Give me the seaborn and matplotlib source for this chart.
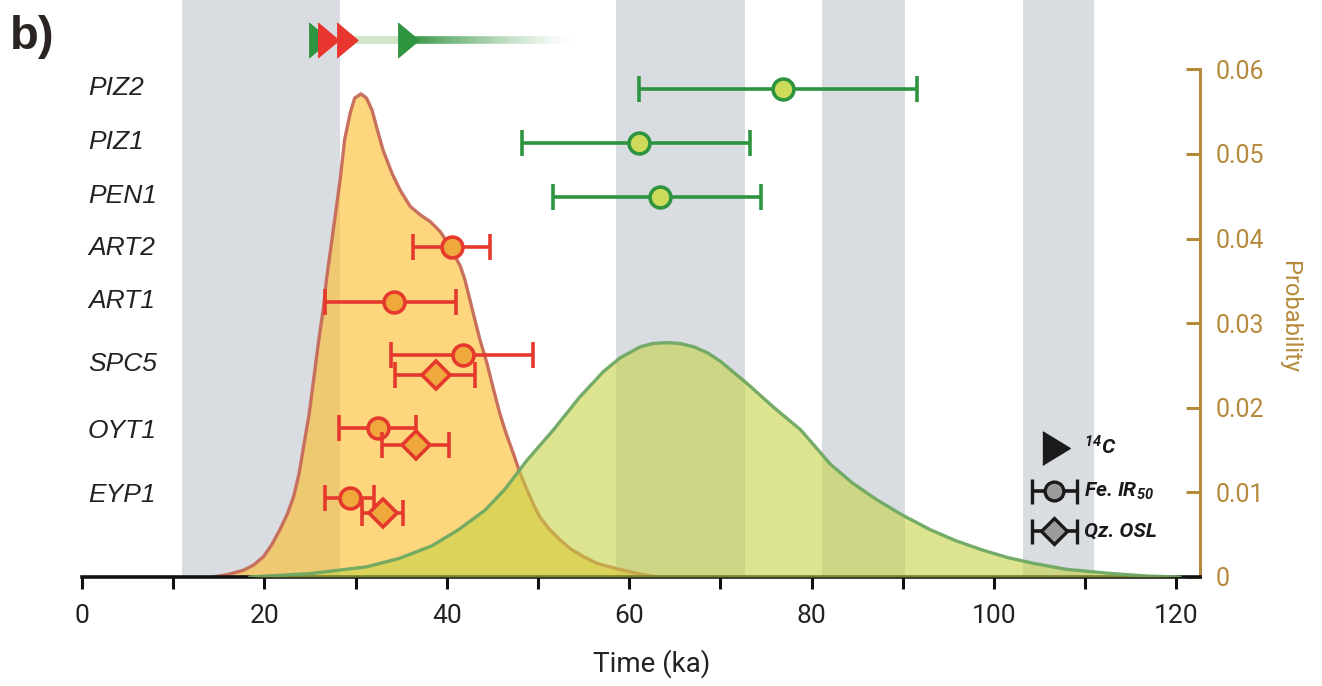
import numpy as np
import matplotlib
matplotlib.use("Agg")
import matplotlib.pyplot as plt
import seaborn as sns
from matplotlib.collections import LineCollection

# ---------------- data ----------------
samples = ["PIZ2", "PIZ1", "PEN1", "ART2", "ART1", "SPC5", "OYT1", "EYP1"]
sample_group = ["green", "green", "green", "red", "red", "red", "red", "red"]
ir_age = [76.85, 61.1, 63.4, 40.55, 34.25, 41.8, 32.5, 29.4]
ir_lo = [61.1, 48.3, 51.6, 36.3, 26.65, 33.85, 28.2, 26.65]
ir_hi = [91.6, 73.2, 74.5, 44.75, 41.0, 49.5, 36.6, 32.0]

osl_samples = ["SPC5", "OYT1", "EYP1"]
osl_age = [38.8, 36.6, 33.0]
osl_lo = [34.3, 32.9, 30.7]
osl_hi = [43.1, 40.2, 35.25]

c14_green = [26.0, 35.7]
c14_red = [27.0, 29.1]

orange_t = [14.4, 16.0, 17.7, 18.8, 19.9, 20.8, 21.7, 22.5, 23.2, 23.8, 24.3, 24.9,
            25.4, 25.9, 26.5, 26.8, 27.6, 28.3, 28.8, 29.4, 29.9, 30.6, 31.2, 31.8,
            32.3, 33.0, 34.0, 34.9, 36.0, 37.1, 38.2, 39.3, 40.4, 41.5, 42.0, 42.9,
            43.6, 44.4, 45.1, 45.8, 46.5, 47.3, 48.0, 48.8, 49.5, 50.2, 51.2, 52.4,
            53.6, 55.0, 56.5, 58.6, 60.5, 63.0]
orange_p = [0.0, 0.0003, 0.0008, 0.0014, 0.0024, 0.0038, 0.0056, 0.0074, 0.0095, 0.0122,
            0.0154, 0.0192, 0.0233, 0.0275, 0.0320, 0.0351, 0.0414, 0.0469, 0.0517, 0.0548,
            0.0566, 0.0571, 0.0566, 0.0552, 0.0532, 0.0505, 0.0477, 0.0457, 0.0438, 0.0428,
            0.0420, 0.0408, 0.0390, 0.0367, 0.0351, 0.0312, 0.0282, 0.0253, 0.0223, 0.0194,
            0.0170, 0.0146, 0.0124, 0.0103, 0.0086, 0.0071, 0.0057, 0.0044, 0.0033, 0.0024,
            0.0016, 0.0010, 0.0005, 0.0]

green_t = [18.4, 25.0, 31.2, 34.8, 38.4, 41.3, 44.2, 46.4, 48.8, 51.7, 54.6, 57.2,
           59.0, 61.2, 62.6, 64.1, 65.6, 67.1, 68.6, 70.0, 72.9, 75.8, 78.8, 80.9,
           82.0, 84.5, 87.2, 90.0, 93.0, 95.8, 98.7, 101.5, 104.4, 108.0, 113.0, 117.0,
           120.4]
green_p = [0.0, 0.0004, 0.0012, 0.0022, 0.0037, 0.0056, 0.0079, 0.0104, 0.0138, 0.0174,
           0.0213, 0.0243, 0.0259, 0.0272, 0.0276, 0.0277, 0.0276, 0.0272, 0.0265, 0.0255,
           0.0229, 0.0201, 0.0174, 0.0148, 0.0134, 0.0111, 0.0091, 0.0073, 0.0056, 0.0043,
           0.0032, 0.0023, 0.0016, 0.0009, 0.0004, 0.0001, 0.0]

mis_bands = [(11.0, 28.3), (58.6, 72.7), (81.2, 90.3), (103.2, 111.0)]

x_major = [0, 20, 40, 60, 80, 100, 120]
x_minor = [10, 30, 50, 70, 90, 110]
prob_ticks = [0, 0.01, 0.02, 0.03, 0.04, 0.05, 0.06]
prob_labels = ["0", "0.01", "0.02", "0.03", "0.04", "0.05", "0.06"]

# ---------------- layout (pixel-like row positions) ----------------
label_y = [88, 142, 196, 248, 301, 364, 431, 495]
ir_y = [89, 142.7, 196.7, 247.3, 301.7, 355, 428.3, 498.3]
osl_y = [375, 445, 512.7]
arrow_y = 40

# ---------------- style ----------------
sns.set_theme(style="white")
SANS = ["Roboto", "DejaVu Sans"]
ITAL = ["Liberation Sans", "DejaVu Sans"]
plt.rcParams["font.family"] = SANS
plt.rcParams["mathtext.fontset"] = "custom"
plt.rcParams["mathtext.rm"] = "Roboto:italic:bold"
plt.rcParams["mathtext.it"] = "Roboto:italic:bold"
plt.rcParams["mathtext.bf"] = "Roboto:italic:bold"
plt.rcParams["mathtext.default"] = "rm"

GOLD = "#b68a3c"
GRAY_BAND = "#d9dde1"
RED_E = "#e5392e"
RED_F = "#efa83c"
GRN_E = "#2e9440"
GRN_F = "#cddb5a"
colors = {"red": (RED_E, RED_F), "green": (GRN_E, GRN_F)}

fig = plt.figure(figsize=(13.22, 6.86), dpi=100)
ax = fig.add_axes([82 / 1322, 109 / 686, (1200 - 82) / 1322, 577 / 686])
ax.set_xlim(0, 122.6)
ax.set_ylim(0, 0.0682)

for a, b in mis_bands:
    ax.axvspan(a, b, color=GRAY_BAND, lw=0, zorder=0)

ax.fill_between(orange_t, orange_p, color="#fcbd2d", alpha=0.62, lw=0, zorder=1)
sns.lineplot(x=orange_t, y=orange_p, ax=ax, color="#c66a58", lw=2.4, sort=False,
             zorder=2, alpha=0.95)
ax.fill_between(green_t, green_p, color="#c5d141", alpha=0.58, lw=0, zorder=3)
sns.lineplot(x=green_t, y=green_p, ax=ax, color="#6ea862", lw=2.4, sort=False,
             zorder=4, alpha=0.95)

# axes styling
for s in ["top", "left"]:
    ax.spines[s].set_visible(False)
ax.spines["bottom"].set_color("#111111")
ax.spines["bottom"].set_linewidth(2.6)
ax.spines["right"].set_color(GOLD)
ax.spines["right"].set_linewidth(2.2)
ax.spines["right"].set_bounds(0, 0.06)

ax.set_xticks(x_major)
ax.set_xticks(x_minor, minor=True)
ax.set_xticklabels([str(v) for v in x_major])
ax.tick_params(axis="x", which="both", direction="out", length=8.5, width=2.2,
               color="#111111", labelsize=19, pad=11, labelcolor="#222222", bottom=True)

# twin for sample rows (drawn above curves)
axr = ax.twinx()
axr.set_ylim(577, 0)
axr.set_xlim(0, 122.6)
for s in axr.spines.values():
    s.set_visible(False)
axr.set_yticks([])

ax.yaxis.tick_right()
ax.set_yticks(prob_ticks)
ax.set_yticklabels(prob_labels)
ax.tick_params(axis="y", which="both", direction="in", length=10, width=2.2,
               color=GOLD, labelcolor=GOLD, labelsize=18, pad=11, right=True, left=False)
ax.set_ylabel("")
fig.text(1290 / 1322, 1 - 317 / 686, "Probability", color=GOLD, fontsize=17,
         rotation=270, ha="center", va="center")

ax.set_xlabel("")
fig.text(652 / 1322, 1 - 664 / 686, "Time (ka)", color="#222222", fontsize=20,
         ha="center", va="center")

# IR50 points
for name, a, lo, hi, y, g in zip(samples, ir_age, ir_lo, ir_hi, ir_y, sample_group):
    ec, fc = colors[g]
    axr.errorbar([a], [y], xerr=[[a - lo], [hi - a]], fmt="o", ms=15, mfc=fc, mec=ec,
                 mew=2.6, ecolor=ec, elinewidth=2.6, capsize=9.5, capthick=2.6, zorder=6)

# OSL points
for name, a, lo, hi, y in zip(osl_samples, osl_age, osl_lo, osl_hi, osl_y):
    axr.errorbar([a], [y], xerr=[[a - lo], [hi - a]], fmt="D", ms=14, mfc=RED_F, mec=RED_E,
                 mew=2.6, ecolor=RED_E, elinewidth=2.6, capsize=9.5, capthick=2.6, zorder=7)

# sample labels
for name, y in zip(samples, label_y):
    axr.text(0.66, y, name, ha="left", va="center", fontsize=19, style="italic",
             color="#222222", family=ITAL)

# 14C arrows with gradient bar
tri = [(-0.6, -1), (0.6, 0), (-0.6, 1)]
gx = np.linspace(c14_green[1], 54.0, 80)
segs = [[(gx[i], arrow_y), (gx[i + 1], arrow_y)] for i in range(len(gx) - 1)]
alphas = np.linspace(1, 0, len(segs)) ** 1.3
lc = LineCollection(segs, colors=[(0.2, 0.58, 0.25, al) for al in alphas], lw=5.5,
                    zorder=5, clip_on=False)
axr.add_collection(lc)
axr.plot([c14_red[1], c14_green[1]], [arrow_y, arrow_y], color=(0.45, 0.7, 0.35, 0.35),
         lw=5.5, solid_capstyle="butt", zorder=5, clip_on=False)
axr.plot([c14_green[0]], [arrow_y], marker=tri, ms=25, color=GRN_E, ls="none", zorder=8)
for c in c14_red:
    axr.plot([c], [arrow_y], marker=tri, ms=25, color="#e8352e", ls="none", zorder=9)
axr.plot([c14_green[1]], [arrow_y], marker=tri, ms=25, color=GRN_E, ls="none", zorder=9)

# legend (manual)
LEG = "#1a1a1a"
tri_l = [(-0.82, -1), (0.82, 0), (-0.82, 1)]
axr.plot([106.8], [448], marker=tri_l, ms=24, color=LEG, ls="none", zorder=10)
axr.errorbar([106.6], [491], xerr=[[2.4], [2.5]], fmt="o", ms=13.5, mfc="#9c9c9c", mec=LEG,
             mew=2.4, ecolor=LEG, elinewidth=2.6, capsize=9, capthick=2.8, zorder=10)
axr.errorbar([106.6], [531], xerr=[[2.4], [2.5]], fmt="D", ms=13, mfc="#9c9c9c", mec=LEG,
             mew=2.4, ecolor=LEG, elinewidth=2.6, capsize=9, capthick=2.8, zorder=10)
leg_kw = dict(ha="left", va="center", fontsize=15, style="italic", weight="bold",
              color=LEG, zorder=11)
axr.text(109.9, 446, r"$^{14}$C", **leg_kw)
axr.text(109.9, 491, r"Fe. IR$_{50}$", **leg_kw)
axr.text(109.9, 531, "Qz. OSL", **leg_kw)

fig.text(10 / 1322, 1 - 37 / 686, "b)", fontsize=34, weight="bold", color="#2a2522",
         ha="left", va="center", family=["Liberation Sans", "DejaVu Sans"])

fig.savefig("out.png", dpi=100)
